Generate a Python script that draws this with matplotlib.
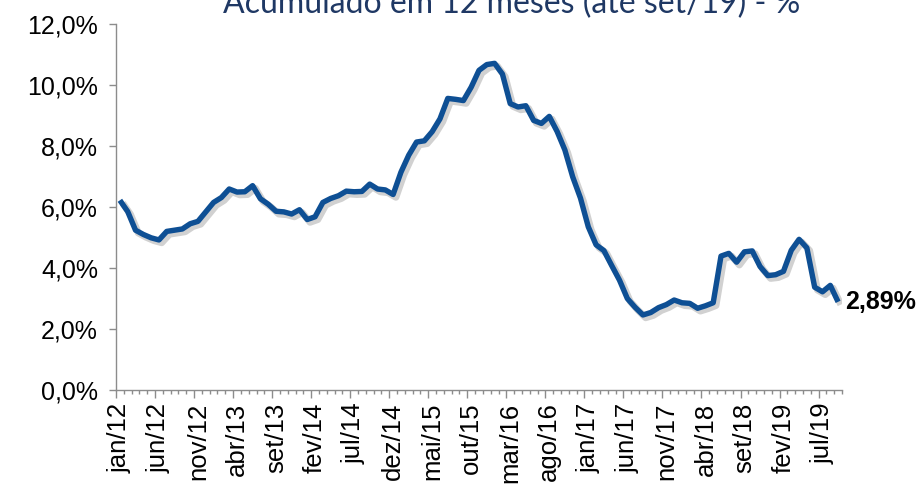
import matplotlib
matplotlib.use("Agg")
import matplotlib.pyplot as plt
import matplotlib.patheffects as pe
from matplotlib.ticker import FuncFormatter

# IPCA acumulado em 12 meses (%), jan/12 .. set/19
meses = ["jan", "fev", "mar", "abr", "mai", "jun",
         "jul", "ago", "set", "out", "nov", "dez"]
anos = ["12", "13", "14", "15", "16", "17", "18", "19"]
ipca_12m = [
    6.22, 5.85, 5.24, 5.10, 4.99, 4.92, 5.20, 5.24, 5.28, 5.45, 5.53, 5.84,
    6.15, 6.31, 6.59, 6.49, 6.50, 6.70, 6.27, 6.09, 5.86, 5.84, 5.77, 5.91,
    5.59, 5.68, 6.15, 6.28, 6.37, 6.52, 6.50, 6.51, 6.75, 6.59, 6.56, 6.41,
    7.14, 7.70, 8.13, 8.17, 8.47, 8.89, 9.56, 9.53, 9.49, 9.93, 10.48, 10.67,
    10.71, 10.36, 9.39, 9.28, 9.32, 8.84, 8.74, 8.97, 8.48, 7.87, 6.99, 6.29,
    5.35, 4.76, 4.57, 4.08, 3.60, 3.00, 2.71, 2.46, 2.54, 2.70, 2.80, 2.95,
    2.86, 2.84, 2.68, 2.76, 2.86, 4.39, 4.48, 4.19, 4.53, 4.56, 4.05, 3.75,
    3.78, 3.89, 4.58, 4.94, 4.66, 3.37, 3.22, 3.43, 2.89,
]
rotulos = [f"{m}/{a}" for a in anos for m in meses][:len(ipca_12m)]

titulo = "Acumulado em 12 meses (até set/19) - %"
azul = "#0E4F94"
cinza = "#8C8C8C"

plt.rcParams["font.family"] = ["Liberation Sans", "DejaVu Sans"]

fig = plt.figure(figsize=(9.22, 4.86), dpi=100)
ax = fig.add_axes([116 / 922, 1 - 390 / 486, (842 - 116) / 922, (390 - 24) / 486])

n = len(ipca_12m)
x = list(range(n))
ax.plot(x, ipca_12m, color=azul, lw=3.9, solid_joinstyle="round",
        solid_capstyle="butt",
        path_effects=[pe.SimpleLineShadow(offset=(2, -2), shadow_color="#000000",
                                          alpha=0.18, linewidth=5),
                      pe.Normal()])

ax.set_xlim(-0.5, n - 0.5)
ax.set_ylim(0, 12)
ax.set_yticks([0, 2, 4, 6, 8, 10, 12])
ax.yaxis.set_major_formatter(FuncFormatter(lambda v, p: f"{v:.1f}%".replace(".", ",")))

for s in ["top", "right"]:
    ax.spines[s].set_visible(False)
for s in ["left", "bottom"]:
    ax.spines[s].set_color(cinza)
    ax.spines[s].set_linewidth(1.0)

ax.tick_params(axis="y", direction="out", length=5, width=1, color=cinza,
               labelsize=18, pad=8)

# marcas entre categorias (estilo Excel)
ax.set_xticks([i - 0.5 for i in range(0, n, 5)])
ax.set_xticks([i - 0.5 for i in range(n + 1)], minor=True)
ax.tick_params(axis="x", which="major", direction="out", length=6, width=1,
               color=cinza, labelbottom=False)
ax.tick_params(axis="x", which="minor", direction="out", length=3, width=1,
               color=cinza)

sec = ax.secondary_xaxis("bottom")
sec.set_xticks(list(range(0, n, 5)))
sec.set_xticklabels(rotulos[::5], rotation=90, fontsize=18.5)
sec.tick_params(length=0, pad=9)
sec.spines["bottom"].set_visible(False)

ax.text(n - 1 + 0.9, ipca_12m[-1], "2,89%", fontsize=18,
        fontweight="bold", ha="left", va="center")

fig.text(0.555, 1 - 13 / 486, titulo, ha="center", va="baseline",
         fontsize=23, color="#1F3864", family=["Lato", "DejaVu Sans"])

fig.savefig("out.png", dpi=100)
